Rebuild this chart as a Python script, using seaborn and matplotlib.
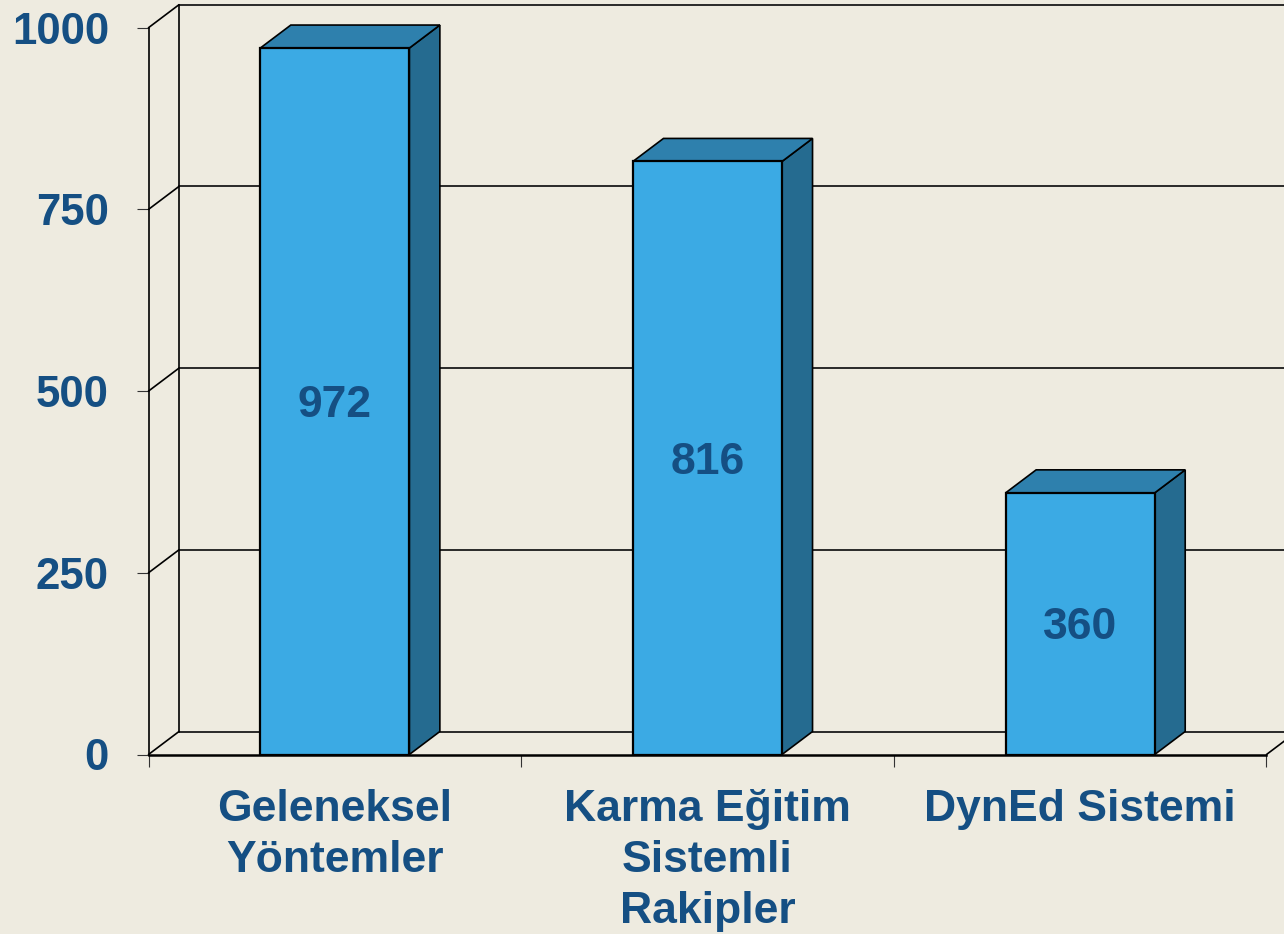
import matplotlib
matplotlib.use("Agg")
import matplotlib.pyplot as plt
from matplotlib.patches import Polygon
import seaborn as sns
import pandas as pd

categories = ["Geleneksel\nYöntemler", "Karma Eğitim\nSistemli\nRakipler", "DynEd Sistemi"]
values = [972, 816, 360]
y_ticks = [0, 250, 500, 750, 1000]

BG = "#EEEBE0"
FRONT = "#3BAAE4"
TOP = "#2E80AD"
SIDE = "#256B90"
TEXT = "#154F83"
W, H = 1284, 934
LEFT, RIGHT = 148.5, 1266.5
BOTTOM, UPPER = 754.5, 27.7

sns.set_theme(style="white", rc={"axes.facecolor": BG, "figure.facecolor": BG})
plt.rcParams["font.family"] = ["Liberation Sans", "DejaVu Sans"]

fig = plt.figure(figsize=(W / 100, H / 100), dpi=100)
ax = fig.add_axes([LEFT / W, 1 - BOTTOM / H, (RIGHT - LEFT) / W, (BOTTOM - UPPER) / H])

df = pd.DataFrame({"name": categories, "value": values})
sns.barplot(data=df, x="name", y="value", color=FRONT, saturation=1, width=0.4,
            edgecolor="black", linewidth=1.6, ax=ax, zorder=5)

ax.set_xlim(-0.5, 2.5)
ax.set_ylim(0, 1000)
ax.set_xlabel("")
ax.set_ylabel("")
ax.set_yticks(y_ticks)
ax.set_xticks([-0.5, 0.5, 1.5, 2.5], minor=True)
ax.set_xticks([0, 1, 2])
ax.set_xticklabels(categories, fontsize=32, fontweight="bold", color=TEXT, linespacing=1.31)
ax.tick_params(axis="x", which="major", length=0, pad=25)
ax.tick_params(axis="x", which="minor", bottom=True, length=8.5, width=0.8, color="#333333")
ax.tick_params(axis="y", left=True, length=9, width=0.8, color="#333333", pad=19.5,
               labelsize=31.5, labelcolor=TEXT)
for t in ax.get_yticklabels():
    t.set_fontweight("bold")

ax.patch.set_visible(False)
for s in ["top", "right"]:
    ax.spines[s].set_visible(False)
ax.spines["left"].set_color("black")
ax.spines["left"].set_linewidth(1.2)
ax.spines["bottom"].set_color("black")
ax.spines["bottom"].set_linewidth(1.8)
ax.spines["bottom"].set_zorder(6)

# fake 3d depth, in data units
dx = 30.5 / ((RIGHT - LEFT) / 3)
dy = 23 / ((BOTTOM - UPPER) / 1000)
far_right = 2.5 + dx

# back wall and floor
for v in y_ticks:
    ax.plot([-0.5 + dx, far_right], [v + dy, v + dy], color="#1a1a1a", lw=1.3, clip_on=False, zorder=1)
    ax.plot([-0.5, -0.5 + dx], [v, v + dy], color="black", lw=1.2, clip_on=False, zorder=1)
ax.plot([-0.5 + dx, -0.5 + dx], [dy, 1000 + dy], color="black", lw=1.2, clip_on=False, zorder=1)
ax.plot([2.5, far_right], [0, dy], color="black", lw=1.2, clip_on=False, zorder=1)

# side and top of each bar
for i, v in enumerate(values):
    l, r = i - 0.2, i + 0.2
    ax.add_patch(Polygon([(r, 0), (r + dx, dy), (r + dx, v + dy), (r, v)], facecolor=SIDE,
                         edgecolor="black", lw=1.2, clip_on=False, zorder=4))
    ax.add_patch(Polygon([(l, v), (l + dx, v + dy), (r + dx, v + dy), (r, v)], facecolor=TOP,
                         edgecolor="black", lw=1.2, clip_on=False, zorder=4))

ax.bar_label(ax.containers[0], labels=[str(v) for v in values], label_type="center", padding=-3,
             fontsize=32, fontweight="bold", color=TEXT, zorder=7)

fig.savefig("out.png", dpi=100, facecolor=BG)
